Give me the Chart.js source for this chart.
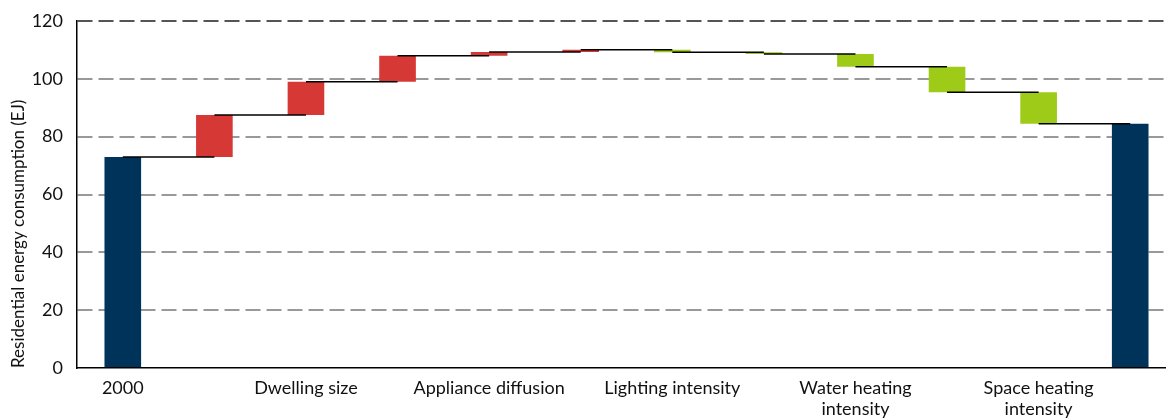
<!DOCTYPE html>
<html>
<head>
<meta charset="utf-8">
<script src="https://cdn.jsdelivr.net/npm/chart.js@4"></script>
<style>
    body { margin: 0; overflow: hidden; background: #fff; }
    .chart-box { width: 1176px; height: 420px; }
</style>
</head>
<body>
<div class="chart-box"><canvas id="chart-waterfall"></canvas></div>
<script>
// 라벨
const stepLabels = ["2000", "Population", "Dwelling size", "Occupancy", "Appliance diffusion", "Space cooling diffusion",
    "Lighting intensity", "Cooking intensity", ["Water heating", "intensity"], "Appliance intensity",
    ["Space heating", "intensity"], "2017"];
const yTicks = [0, 20, 40, 60, 80, 100, 120];

// 데이터 (EJ)
const startValue = 73.0;
const stepChanges = [14.5, 11.5, 9.0, 1.3, 0.8, -0.9, -0.6, -4.4, -8.8, -10.9];
const endValue = 84.5;

// 색상
const totalColor = '#00335A';
const upColor = '#D63835';
const downColor = '#9DCB17';

// 막대 데이터 만들기 (떠있는 막대)
const barData = [[0, startValue]];
const barColors = [totalColor];
const levels = [startValue];
let running = startValue;
stepChanges.forEach(d => {
    barData.push([running, running + d]);
    barColors.push(d >= 0 ? upColor : downColor);
    running += d;
    levels.push(running);
});
barData.push([0, endValue]);
barColors.push(totalColor);
levels.push(endValue);

// 연결선 플러그인
const connectorPlugin = {
    id: 'connectors',
    afterDatasetsDraw(chart) {
        const ctx = chart.ctx;
        const x = chart.scales.x;
        const y = chart.scales.y;
        ctx.save();
        ctx.strokeStyle = '#000';
        ctx.lineWidth = 1.5;
        for (let i = 0; i < levels.length - 1; i++) {
            const py = y.getPixelForValue(levels[i]);
            ctx.beginPath();
            ctx.moveTo(x.getPixelForValue(i), py);
            ctx.lineTo(x.getPixelForValue(i + 1), py);
            ctx.stroke();
        }
        ctx.restore();
    }
};

const fontFamily = 'Lato, "Open Sans", sans-serif';

const config_waterfall = {
    type: 'bar',
    data: {
        labels: stepLabels,
        datasets: [{
            data: barData,
            backgroundColor: barColors,
            borderWidth: 0,
            barPercentage: 0.4,
            categoryPercentage: 1.0
        }]
    },
    plugins: [connectorPlugin],
    options: {
        responsive: true,
        maintainAspectRatio: false,
        animation: false,
        layout: {
            padding: { top: 21, right: 0, bottom: 0, left: 0 }
        },
        scales: {
            x: {
                grid: { display: false },
                border: { display: true, color: '#000', width: 1.5 },
                ticks: {
                    autoSkip: false,
                    maxRotation: 0,
                    padding: 1,
                    color: '#111',
                    font: { family: fontFamily, size: 18 },
                    callback: function (value, idx) {
                        return idx % 2 === 0 ? stepLabels[idx] : '';
                    }
                },
                afterFit: function (scale) {
                    scale.height = 52;
                }
            },
            y: {
                min: 0,
                max: 120,
                afterBuildTicks: function (scale) {
                    scale.ticks = yTicks.map(v => ({ value: v }));
                },
                grid: {
                    drawTicks: false,
                    lineWidth: 2,
                    color: function (context) {
                        if (context.tick.value === 0) return 'rgba(0,0,0,0)';
                        if (context.tick.value === 120) return '#555';
                        return '#999';
                    }
                },
                border: { display: true, color: '#000', width: 1.5, dash: [15, 6] },
                ticks: {
                    padding: 14,
                    color: '#111',
                    font: { family: fontFamily, size: 18 }
                },
                title: {
                    display: true,
                    text: 'Residential energy consumption (EJ)',
                    align: 'start',
                    color: '#111',
                    padding: { top: 8, bottom: 0 },
                    font: { family: fontFamily, size: 17 }
                },
                afterFit: function (scale) {
                    scale.width = 77;
                    scale.paddingTop = 0;
                    scale.paddingBottom = 0;
                }
            }
        },
        plugins: {
            legend: { display: false },
            tooltip: { enabled: false }
        }
    }
};

const waterfallChart = new Chart(document.getElementById("chart-waterfall"), config_waterfall);
</script>
</body>
</html>
